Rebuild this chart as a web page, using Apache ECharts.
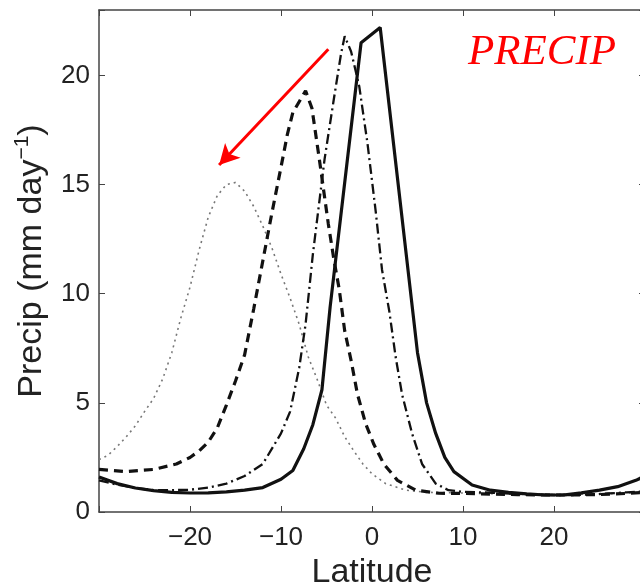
<!DOCTYPE html>
<html>
<head>
<meta charset="utf-8">
<script src="https://cdn.jsdelivr.net/npm/echarts@6/dist/echarts.min.js"></script>
<style>
  html, body { margin: 0; padding: 0; background: #fff; }
  #main { width: 640px; height: 583px; }
</style>
</head>
<body>
<div id="main"></div>
<script>
// latitude (deg) and precip (mm/day), one pair of arrays per curve
var latSolid = [-30, -28, -26, -24, -22, -20, -18, -16, -14, -12, -10, -8.7, -7.5, -6.5, -5.5, -4.6, -1.2, 0.9, 5.0, 6.0, 7.0, 8.0, 9.0, 11, 13, 15, 17, 19, 21, 23, 25, 27, 29, 30];
var precipSolid = [1.6, 1.3, 1.1, 0.98, 0.9, 0.87, 0.88, 0.92, 1.0, 1.12, 1.5, 1.9, 2.9, 4.0, 5.6, 9.4, 21.5, 22.2, 7.3, 5.0, 3.6, 2.5, 1.85, 1.24, 1.0, 0.9, 0.83, 0.78, 0.78, 0.88, 1.0, 1.16, 1.45, 1.65];

var latDashDot = [-30, -28, -26, -24, -22, -20, -18, -16, -14, -12, -10, -9, -8, -7.3, -6.5, -6, -5.2, -4.2, -3.4, -3.0, -2.3, -1.4, -0.5, 0.4, 1.1, 1.9, 2.6, 3.3, 4.4, 5.5, 7, 8.4, 10, 12, 14, 16, 18, 20, 22, 24, 26, 28, 30];
var precipDashDot = [1.45, 1.25, 1.1, 1.0, 1.0, 1.02, 1.12, 1.3, 1.65, 2.2, 3.6, 4.6, 6.6, 8.6, 11.8, 13.5, 16.2, 18.9, 21.0, 21.8, 21.1, 19.5, 16.9, 13.8, 11.1, 9.2, 7.1, 5.4, 3.6, 2.2, 1.3, 1.0, 0.92, 0.9, 0.87, 0.83, 0.8, 0.78, 0.78, 0.8, 0.85, 0.9, 0.95];

var latDashed = [-30, -27, -24, -21.5, -20, -19, -18, -17, -16, -15, -14, -13, -12, -11, -10, -9.3, -8.7, -7.3, -6.6, -5.8, -4.8, -4.2, -3.6, -3, -2.3, -1.6, -0.7, 0.2, 1.3, 2.8, 4.8, 7.3, 10, 13, 16, 19, 22, 25, 28, 30];
var precipDashed = [1.95, 1.85, 1.95, 2.2, 2.5, 2.8, 3.2, 3.85, 4.9, 6.0, 7.2, 9.3, 11.5, 13.7, 15.8, 17.3, 18.3, 19.3, 18.5, 16.2, 13.2, 11.6, 10.2, 8.3, 6.95, 5.4, 4.05, 3.1, 2.2, 1.45, 1.0, 0.86, 0.85, 0.82, 0.8, 0.78, 0.78, 0.8, 0.85, 0.9];

var latDotted = [-30, -29, -28, -27, -26, -25, -24, -23, -22, -21, -20, -19, -18, -17, -16, -15, -14, -13, -12, -11, -10, -9, -8, -7, -6, -5, -4, -3, -2, -1, 0, 1.5, 3.7, 6, 9, 12, 15, 18, 21, 24, 27, 30];
var precipDotted = [2.4, 2.6, 3.0, 3.45, 3.95, 4.6, 5.2, 6.1, 7.3, 8.9, 10.3, 12.0, 13.5, 14.5, 15.0, 15.1, 14.7, 14.0, 13.1, 12.1, 10.9, 9.8, 8.6, 7.1, 6.05, 4.9, 4.3, 3.45, 2.8, 2.2, 1.75, 1.3, 1.0, 0.9, 0.88, 0.85, 0.82, 0.8, 0.8, 0.82, 0.85, 0.9];

// red arrow, from -> to, in data units
var arrowFrom = [-4.8, 21.2];
var arrowTo = [-16.8, 15.9];

var xTicks = [-20, -10, 0, 10, 20];
var yTicks = [0, 5, 10, 15, 20];

function zip(xs, ys) {
    return xs.map(function (x, i) { return [x, ys[i]]; });
}

var myChart = echarts.init(document.getElementById('main'));
var font = '"Liberation Sans", Arial, sans-serif';
var axisColor = '#444';

var option = {
    animation: false,
    title: {
        text: 'PRECIP',
        left: 463,
        top: 26,
        textStyle: {
            color: '#ff0000',
            fontFamily: '"Liberation Serif", "Times New Roman", serif',
            fontStyle: 'italic',
            fontWeight: 'normal',
            fontSize: 43
        }
    },
    // plot box runs a few px past the right edge of the picture, as in the original
    grid: { left: 99, width: 546, top: 10, bottom: 71, outerBoundsMode: 'none', containLabel: false },
    xAxis: [
        {
            type: 'value', min: -30, max: 30, interval: 10,
            name: 'Latitude', nameLocation: 'middle', nameGap: 34,
            nameTextStyle: { fontFamily: font, fontSize: 34, color: '#222' },
            axisLine: { onZero: false, lineStyle: { color: axisColor, width: 1.5 } },
            axisTick: { inside: true, length: 6, lineStyle: { color: axisColor } },
            splitLine: { show: false },
            axisLabel: {
                fontFamily: font, fontSize: 26, color: '#222', margin: 13,
                formatter: function (v) {
                    return xTicks.indexOf(v) < 0 ? '' : String(v).replace('-', '\u2212');
                }
            }
        },
        {
            type: 'value', min: -30, max: 30, interval: 10, position: 'top',
            axisLine: { onZero: false, lineStyle: { color: axisColor, width: 1.5 } },
            axisTick: { inside: true, length: 6, lineStyle: { color: axisColor } },
            axisLabel: { show: false },
            splitLine: { show: false }
        }
    ],
    yAxis: [
        {
            type: 'value', min: 0, max: 23, interval: 5,
            name: 'Precip (mm day{sup|\u22121})', nameLocation: 'middle', nameGap: 46,
            nameRotate: 90,
            nameTextStyle: {
                fontFamily: font, fontSize: 34, color: '#222', lineHeight: 38,
                rich: {
                    sup: { fontFamily: font, fontSize: 21, color: '#222', verticalAlign: 'top', lineHeight: 18 }
                }
            },
            axisLine: { show: true, onZero: false, lineStyle: { color: axisColor, width: 1.5 } },
            axisTick: { inside: true, length: 6, lineStyle: { color: axisColor } },
            splitLine: { show: false },
            axisLabel: {
                fontFamily: font, fontSize: 26, color: '#222', margin: 9,
                formatter: function (v) { return yTicks.indexOf(v) < 0 ? '' : String(v); }
            }
        },
        {
            type: 'value', min: 0, max: 23, interval: 5, position: 'right',
            axisLine: { show: true, onZero: false, lineStyle: { color: axisColor, width: 1.5 } },
            axisTick: { inside: true, length: 6, lineStyle: { color: axisColor } },
            axisLabel: { show: false },
            splitLine: { show: false }
        }
    ],
    series: [
        {
            name: 'dotted', type: 'line', symbol: 'none',
            data: zip(latDotted, precipDotted),
            lineStyle: { color: '#777', width: 1.6, type: [2, 4] }
        },
        {
            name: 'dashed', type: 'line', symbol: 'none',
            data: zip(latDashed, precipDashed),
            lineStyle: { color: '#111', width: 3.2, type: [9, 6] }
        },
        {
            name: 'dashdot', type: 'line', symbol: 'none',
            data: zip(latDashDot, precipDashDot),
            lineStyle: { color: '#111', width: 2.3, type: [10, 4, 2, 4] }
        },
        {
            name: 'solid', type: 'line', symbol: 'none',
            data: zip(latSolid, precipSolid),
            lineStyle: { color: '#111', width: 3.2 },
            markLine: {
                silent: true,
                symbol: ['none', 'arrow'],
                symbolSize: [16, 20],
                label: { show: false },
                lineStyle: { color: '#ff0000', width: 3, type: 'solid' },
                data: [[{ coord: arrowFrom }, { coord: arrowTo }]]
            }
        }
    ]
};

myChart.setOption(option);
</script>
</body>
</html>
